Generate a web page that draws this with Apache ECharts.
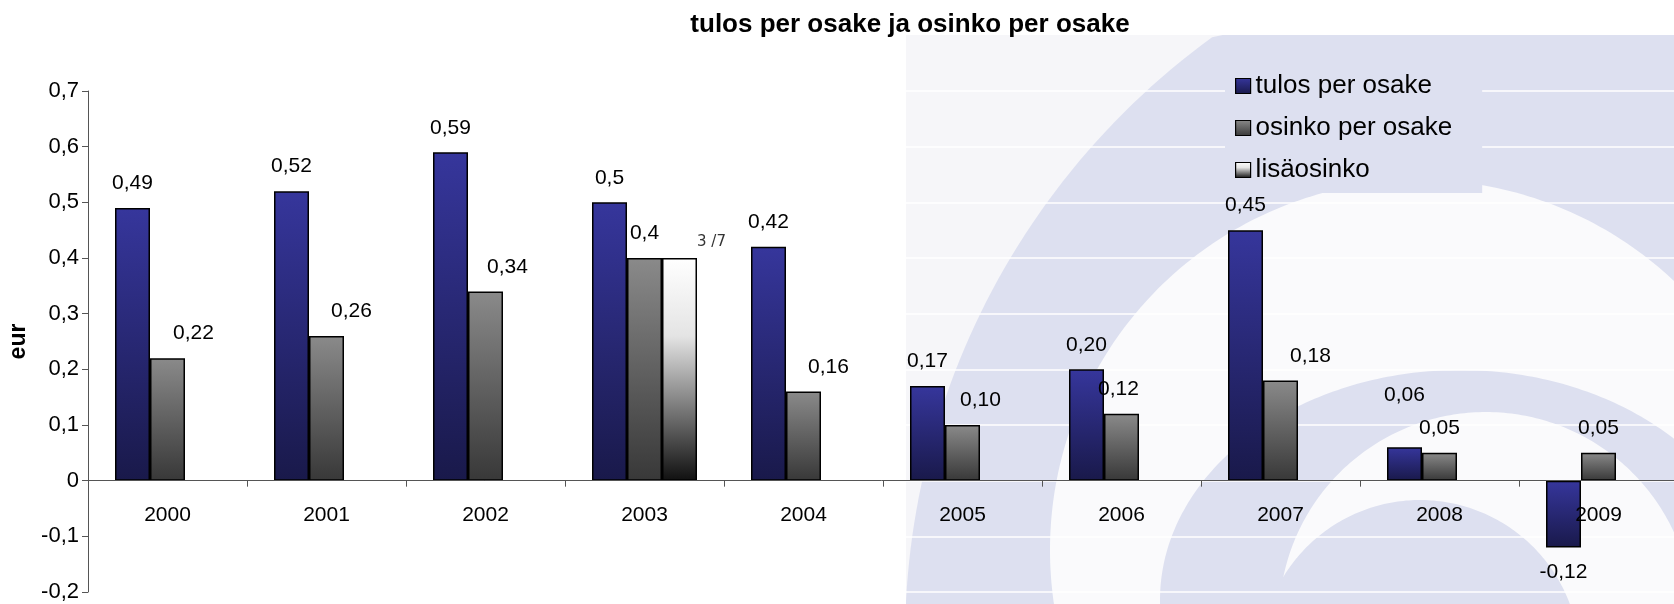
<!DOCTYPE html>
<html>
<head>
<meta charset="utf-8">
<title>tulos per osake ja osinko per osake</title>
<script src="https://cdn.jsdelivr.net/npm/echarts@6/dist/echarts.min.js"></script>
<style>
html, body { margin: 0; padding: 0; background: #fff; }
#myChart { width: 1674px; height: 604px; }
</style>
</head>
<body>
<div id="myChart"></div>
<script>
// vuodet ja arvot (eur / osake)
const years = ['2000', '2001', '2002', '2003', '2004', '2005', '2006', '2007', '2008', '2009'];
const tulos = [0.49, 0.52, 0.59, 0.5, 0.42, 0.17, 0.20, 0.45, 0.06, -0.12];
const osinko = [0.22, 0.26, 0.34, 0.4, 0.16, 0.10, 0.12, 0.18, 0.05, 0.05];
const lisaosinko = [null, null, null, 0.4, null, null, null, null, null, null];

// datalabels as printed in the picture
const tulosLabels = ['0,49', '0,52', '0,59', '0,5', '0,42', '0,17', '0,20', '0,45', '0,06', '-0,12'];
const osinkoLabels = ['0,22', '0,26', '0,34', '0,4', '0,16', '0,10', '0,12', '0,18', '0,05', '0,05'];
const lisaLabels = ['', '', '', '3 /7', '', '', '', '', '', ''];

const yMin = -0.2, yMax = 0.7, yStep = 0.1;

// small label nudges (px), the original labels are not all centred
const osinkoLabelDx = [26, 25, 22, 0, 25, 18, -3, 30, 0, 0];
const tulosLabelDy = [0, 0, 0, 0, 0, 0, 0, 0, -28, 0];

const FONT = 'Liberation Sans, Arial, sans-serif';

// plot box
const GRID = { left: 88, right: -4, top: 91, bottom: 12 };
const plotH = 604 - GRID.top - GRID.bottom;
// x axis sits on the zero line, move it up from the bottom of the grid
const xAxisOffset = -(0 - yMin) / (yMax - yMin) * plotH;

function grad(stops) {
  return new echarts.graphic.LinearGradient(0, 0, 0, 1,
    stops.map(s => ({ offset: s[0], color: s[1] })));
}

// background logo, clipped to its box
const BOX = { x0: 906, y0: 35, x1: 1674, y1: 604 };
function blob(cx, cy, rx, ry) {
  const pts = [];
  for (let i = 0; i < 360; i++) {
    const a = i / 360 * Math.PI * 2;
    let x = cx + rx * Math.cos(a), y = cy + (ry || rx) * Math.sin(a);
    x = Math.min(Math.max(x, BOX.x0), BOX.x1 + 10);
    y = Math.min(Math.max(y, BOX.y0), BOX.y1 + 10);
    pts.push([x, y]);
  }
  return pts;
}
const LAV = '#dde0f0';
const PALE = '#fafafc';

let Chart = echarts.init(document.getElementById('myChart'));
Chart.setOption({
  animation: false,
  backgroundColor: '#fff',
  title: {
    text: 'tulos per osake ja osinko per osake',
    left: 905,
    top: 7,
    textAlign: 'center',
    textStyle: { fontSize: 26, fontWeight: 'bold', fontFamily: FONT, color: '#000' }
  },
  legend: {
    orient: 'vertical',
    left: 1225,
    top: 63,
    icon: 'rect',
    itemWidth: 15,
    itemHeight: 15,
    itemGap: 16,
    backgroundColor: LAV,
    padding: [10, 30, 10, 10],
    textStyle: { fontSize: 26, fontFamily: FONT, color: '#000' },
    itemStyle: { borderColor: '#000', borderWidth: 1.2 },
    data: ['tulos per osake', 'osinko per osake', 'lisäosinko']
  },
  graphic: [
    { type: 'rect', z: -10, silent: true,
      shape: { x: BOX.x0, y: BOX.y0, width: BOX.x1 - BOX.x0, height: BOX.y1 - BOX.y0 },
      style: { fill: '#f6f6f9' } },
    { type: 'polygon', z: -9, silent: true, shape: { points: blob(1650, 640, 745) }, style: { fill: LAV } },
    { type: 'polygon', z: -8, silent: true, shape: { points: blob(1420, 550, 370) }, style: { fill: PALE } },
    { type: 'polygon', z: -7, silent: true, shape: { points: blob(1460, 600, 300, 230) }, style: { fill: LAV } },
    { type: 'polygon', z: -6, silent: true, shape: { points: blob(1486, 619, 207) }, style: { fill: PALE } },
    { type: 'polygon', z: -5, silent: true, shape: { points: blob(1420, 660, 160) }, style: { fill: LAV } }
  ],
  grid: {
    left: GRID.left, right: GRID.right, top: GRID.top, bottom: GRID.bottom,
    outerBoundsMode: 'none'
  },
  xAxis: {
    type: 'category',
    data: years,
    z: 5,
    offset: xAxisOffset,
    axisLine: { onZero: false, lineStyle: { color: '#555', width: 1 } },
    axisTick: { show: true, length: 6, lineStyle: { color: '#555' } },
    axisLabel: { margin: 24, fontSize: 21, color: '#000', fontFamily: FONT },
    splitLine: { show: false }
  },
  yAxis: {
    type: 'value',
    min: yMin,
    max: yMax,
    interval: yStep,
    name: 'eur',
    nameLocation: 'middle',
    nameGap: 48,
    nameTextStyle: { fontWeight: 'bold', fontSize: 23, fontFamily: FONT, color: '#000' },
    axisLine: { show: true, lineStyle: { color: '#555', width: 1 } },
    axisTick: { show: true, length: 6, lineStyle: { color: '#555' } },
    axisLabel: {
      margin: 9, fontSize: 22, color: '#000', fontFamily: FONT,
      formatter: v => {
        const r = Math.round(v * 10) / 10;
        return r === 0 ? '0' : String(r).replace('.', ',');
      }
    },
    splitLine: { show: true, lineStyle: { color: '#fff', width: 1.5 } }
  },
  series: [
    {
      name: 'tulos per osake',
      type: 'bar',
      barWidth: 35,
      barGap: '0%',
      itemStyle: {
        color: grad([[0, '#36369c'], [1, '#19194a']]),
        borderColor: '#000',
        borderWidth: 1.5
      },
      label: {
        show: true, position: 'top', distance: 14,
        fontSize: 21, fontFamily: FONT, color: '#000',
        formatter: p => tulosLabels[p.dataIndex]
      },
      data: tulos.map((v, i) => v < 0
        ? { value: v, label: { position: 'bottom', distance: 14 } }
        : { value: v, label: { offset: [0, tulosLabelDy[i]] } })
    },
    {
      name: 'osinko per osake',
      type: 'bar',
      barWidth: 35,
      barGap: '0%',
      itemStyle: {
        color: grad([[0, '#8a8a8a'], [1, '#383838']]),
        borderColor: '#000',
        borderWidth: 1.5
      },
      label: {
        show: true, position: 'top', distance: 14,
        fontSize: 21, fontFamily: FONT, color: '#000',
        formatter: p => osinkoLabels[p.dataIndex]
      },
      data: osinko.map((v, i) => ({ value: v, label: { offset: [osinkoLabelDx[i], 0] } }))
    },
    {
      name: 'lisäosinko',
      type: 'bar',
      barWidth: 35,
      barGap: '0%',
      itemStyle: {
        color: grad([[0, '#ffffff'], [0.35, '#e4e4e4'], [1, '#101010']]),
        borderColor: '#000',
        borderWidth: 1.5
      },
      label: {
        show: true, position: 'top', distance: 8, offset: [32, 0],
        fontSize: 15, fontFamily: 'DejaVu Sans, sans-serif', color: '#333',
        formatter: p => lisaLabels[p.dataIndex]
      },
      data: lisaosinko
    }
  ]
}, true);
</script>
</body>
</html>
